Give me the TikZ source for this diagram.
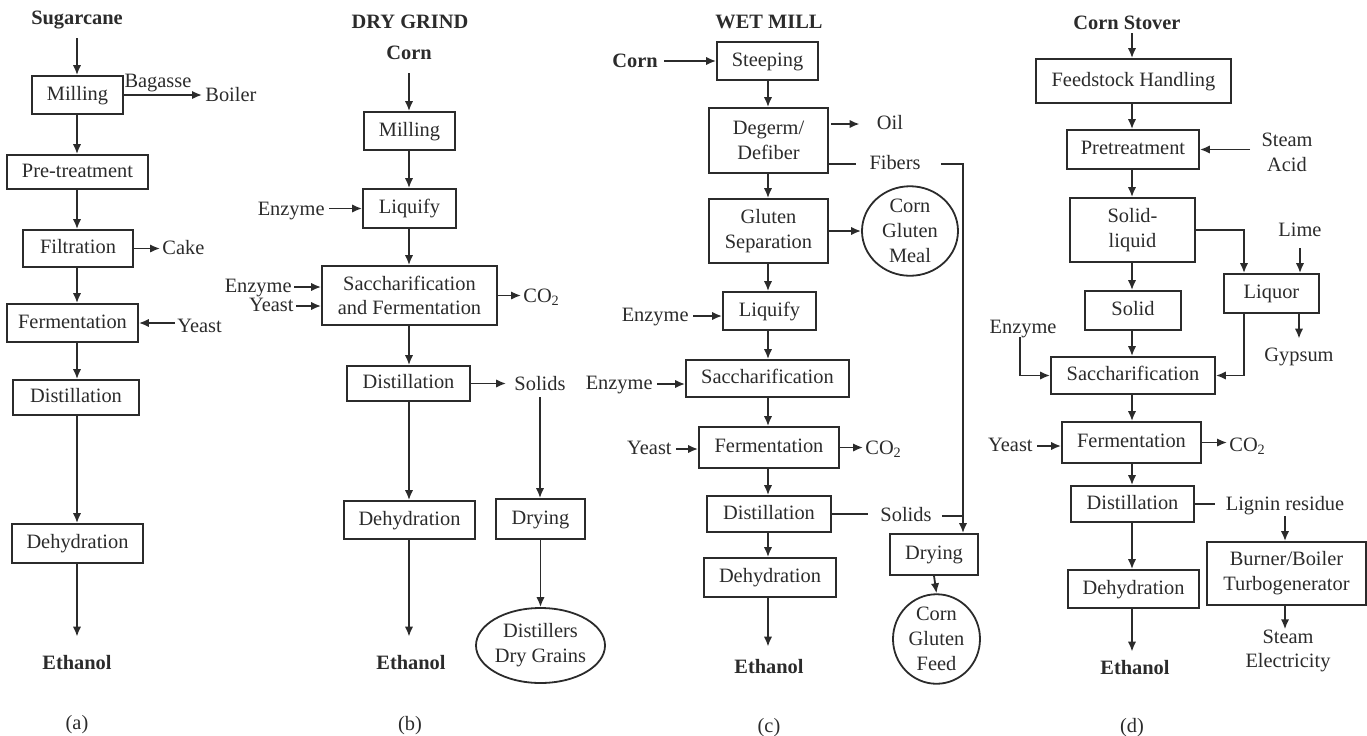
\documentclass[tikz,border=0pt]{standalone}
\usepackage{fontspec}
\setmainfont{Liberation Serif}
\usetikzlibrary{arrows.meta,shapes.geometric}
\definecolor{ink}{gray}{0.17}
\newcommand\fsz{\fontsize{10.2}{12.4}\selectfont}
\begin{document}
\begin{tikzpicture}[x=0.5pt,y=-0.5pt,
  every node/.style={font=\fsz, text=ink},
  lbl/.style={inner sep=0pt, text height=7pt, text depth=2pt},
  mlbl/.style={inner sep=0pt, align=center},
  hd/.style={lbl, font=\fsz\bfseries},
  box/.style={draw=ink, line width=0.9pt, inner sep=0pt, text height=7pt, text depth=2pt},
  mbox/.style={draw=ink, line width=0.9pt, inner sep=0pt, align=center},
  oval/.style={draw=ink, line width=0.9pt, inner sep=0pt, align=center, ellipse},
  arr/.style={draw=ink, line width=0.9pt, -{Latex[length=5pt,width=4.2pt]}},
  ln/.style={draw=ink, line width=0.9pt}]
\useasboundingbox (0,0) rectangle (1367,735);

% ---------------- (a) ----------------
\coordinate (aAx) at (77,0);
\node[hd] (aSrc) at (77,19) {Sugarcane};
\node[box,minimum width=45.5pt,minimum height=19pt] (aMill) at (77.5,95) {Milling};
\node[lbl] (aBag) at (158,82) {Bagasse};
\node[lbl,anchor=west] (aBoil) at (205,96) {Boiler};
\node[box,minimum width=70.5pt,minimum height=17pt] (aPre) at (77.5,172) {Pre-treatment};
\node[box,minimum width=55pt,minimum height=18.5pt] (aFil) at (78,248.5) {Filtration};
\node[lbl,anchor=west] (aCake) at (162,249) {Cake};
\node[box,minimum width=65.5pt,minimum height=19pt] (aFer) at (72.5,323) {Fermentation};
\node[lbl,anchor=west] (aYeast) at (177,327) {Yeast};
\node[box,minimum width=63pt,minimum height=17.5pt] (aDis) at (76,397.5) {Distillation};
\node[box,minimum width=65.5pt,minimum height=19.5pt] (aDeh) at (77.5,543.5) {Dehydration};
\node[hd] (aEth) at (77,664) {Ethanol};
\node[lbl] (aCap) at (77,724) {(a)};

\draw[arr,shorten <=5pt] (aSrc.south -| aAx) -- (aMill.north -| aAx);
\draw[arr,shorten >=1.5pt] (aMill.east) -- (aMill.east -| aBoil.west);
\draw[arr] (aMill.south -| aAx) -- (aPre.north -| aAx);
\draw[arr] (aPre.south -| aAx) -- (aFil.north -| aAx);
\draw[arr,shorten >=1pt] (aFil.east) -- (aFil.east -| aCake.west);
\draw[arr] (aFil.south -| aAx) -- (aFer.north -| aAx);
\draw[arr,shorten <=1pt] (aFer.east -| aYeast.west) -- (aFer.east);
\draw[arr] (aFer.south -| aAx) -- (aDis.north -| aAx);
\draw[arr] (aDis.south -| aAx) -- (aDeh.north -| aAx);
\draw[arr,shorten >=9pt] (aDeh.south -| aAx) -- (aEth.north -| aAx);

% ---------------- (b) ----------------
\coordinate (bAx) at (409,0);
\node[hd] (bTitle) at (410,23) {DRY GRIND};
\node[hd] (bCorn) at (409,54) {Corn};
\node[box,minimum width=45.5pt,minimum height=19pt] (bMill) at (409.5,131) {Milling};
\node[box,minimum width=46.5pt,minimum height=19.5pt] (bLiq) at (409.5,208.5) {Liquify};
\node[lbl,anchor=east] (bEnz1) at (325,210) {Enzyme};
\node[mbox,minimum width=87.5pt,minimum height=29.5pt] (bSF) at (409.5,295.5) {Saccharification\\and Fermentation};
\node[lbl,anchor=east] (bEnz2) at (292,287) {Enzyme};
\node[lbl,anchor=east] (bYeast) at (294,306) {Yeast};
\node[lbl,anchor=west] (bCO2) at (523,297) {CO\textsubscript{2}};
\node[box,minimum width=61.5pt,minimum height=17.5pt] (bDis) at (408.5,383.5) {Distillation};
\node[lbl] (bSol) at (540,385) {Solids};
\node[box,minimum width=65.5pt,minimum height=19pt] (bDeh) at (409.5,520) {Dehydration};
\node[box,minimum width=44.5pt,minimum height=20pt] (bDry) at (540.5,519) {Drying};
\node[oval,minimum width=63.5pt,minimum height=37.5pt] (bDDG) at (540.5,645.5) {Distillers\\Dry Grains};
\node[hd] (bEth) at (411,664) {Ethanol};
\node[lbl] (bCap) at (410,725) {(b)};

\draw[arr,shorten <=5pt] (bCorn.south -| bAx) -- (bMill.north -| bAx);
\draw[arr] (bMill.south -| bAx) -- (bLiq.north -| bAx);
\draw[arr,shorten <=2pt] (bLiq.west -| bEnz1.east) -- (bLiq.west);
\draw[arr] (bLiq.south -| bAx) -- (bSF.north -| bAx);
\draw[arr,shorten <=1pt] (bEnz2.east) -- (bEnz2.east -| bSF.west);
\draw[arr,shorten <=1pt] (bYeast.east) -- (bYeast.east -| bSF.west);
\draw[arr,shorten >=1pt] (bSF.east) -- (bSF.east -| bCO2.west);
\draw[arr] (bSF.south -| bAx) -- (bDis.north -| bAx);
\draw[arr,shorten >=4pt] (bDis.east) -- (bDis.east -| bSol.west);
\draw[arr,shorten <=1.5pt] (bSol.south) -- (bSol.south |- bDry.north);
\draw[arr] (bDis.south -| bAx) -- (bDeh.north -| bAx);
\draw[arr] (bDry.south) -- (bDDG.north);
\draw[arr,shorten >=9pt] (bDeh.south -| bAx) -- (bEth.north -| bAx);

% ---------------- (c) ----------------
\coordinate (cAx) at (768,0);
\coordinate (cTurn) at (963,164);
\node[hd] (cTitle) at (769,23) {WET MILL};
\node[hd] (cCorn) at (635,62) {Corn};
\node[box,minimum width=50.5pt,minimum height=19pt] (cSteep) at (767.5,61) {Steeping};
\node[mbox,minimum width=59.5pt,minimum height=32.5pt] (cDeg) at (768.5,140.5) {Degerm/\\Defiber};
\node[lbl] (cOil) at (890,124) {Oil};
\node[lbl] (cFib) at (895,164) {Fibers};
\node[mbox,minimum width=59.5pt,minimum height=32pt] (cGlu) at (768.5,231) {Gluten\\Separation};
\node[oval,minimum width=48pt,minimum height=44pt] (cCGM) at (910,231) {Corn\\Gluten\\Meal};
\node[box,minimum width=46.5pt,minimum height=19pt] (cLiq) at (769.5,311) {Liquify};
\node[lbl,anchor=east] (cEnz1) at (689,316) {Enzyme};
\node[box,minimum width=81.5pt,minimum height=18.5pt] (cSac) at (767.5,378.5) {Saccharification};
\node[lbl,anchor=east] (cEnz2) at (653,384) {Enzyme};
\node[box,minimum width=70pt,minimum height=20.5pt] (cFer) at (769,447.5) {Fermentation};
\node[lbl,anchor=east] (cYeast) at (672,449) {Yeast};
\node[lbl,anchor=west] (cCO2) at (865,449) {CO\textsubscript{2}};
\node[box,minimum width=62pt,minimum height=18pt] (cDis) at (769,514) {Distillation};
\node[lbl] (cSol) at (906,516) {Solids};
\node[box,minimum width=66pt,minimum height=19.5pt] (cDeh) at (770,577.5) {Dehydration};
\node[hd] (cEth) at (769,668) {Ethanol};
\node[box,minimum width=44pt,minimum height=20.5pt] (cDry) at (934,554.5) {Drying};
\node[oval,minimum width=43.5pt,minimum height=42pt] (cCGF) at (936.5,639) {Corn\\Gluten\\Feed};
\node[lbl] (cCap) at (769,727) {(c)};

\draw[arr,shorten <=3pt] (cSteep.west -| cCorn.east) -- (cSteep.west);
\draw[arr] (cSteep.south -| cAx) -- (cDeg.north -| cAx);
\draw[arr,shorten <=1pt,shorten >=8.5pt] (cDeg.east |- cOil) -- (cOil.west);
\draw[ln,shorten >=6.5pt] (cDeg.east |- cFib) -- (cFib.west);
\draw[arr,shorten <=10pt] (cFib.east) -- (cTurn) -- (cTurn |- cDry.north);
\draw[arr] (cDeg.south -| cAx) -- (cGlu.north -| cAx);
\draw[arr] (cGlu.east) -- (cCGM.west);
\draw[arr] (cGlu.south -| cAx) -- (cLiq.north -| cAx);
\draw[arr,shorten <=2pt] (cEnz1.east) -- (cEnz1.east -| cLiq.west);
\draw[arr] (cLiq.south -| cAx) -- (cSac.north -| cAx);
\draw[arr,shorten <=2pt] (cEnz2.east) -- (cEnz2.east -| cSac.west);
\draw[arr] (cSac.south -| cAx) -- (cFer.north -| cAx);
\draw[arr,shorten <=2pt] (cYeast.east) -- (cYeast.east -| cFer.west);
\draw[arr,shorten >=1pt] (cFer.east) -- (cFer.east -| cCO2.west);
\draw[arr] (cFer.south -| cAx) -- (cDis.north -| cAx);
\draw[ln,shorten >=6pt] (cDis.east) -- (cDis.east -| cSol.west);
\draw[ln,shorten <=5pt] (cSol.east) -- (cSol.east -| cTurn);
\draw[arr] (cDis.south -| cAx) -- (cDeh.north -| cAx);
\draw[arr,shorten >=6pt] (cDeh.south -| cAx) -- (cEth.north -| cAx);
\draw[arr] (cDry.south) -- (cCGF.north);

% ---------------- (d) ----------------
\coordinate (dAx) at (1132,0);
\coordinate (dJ1) at (1244,0);
\coordinate (dJ2) at (1020,0);
\node[hd] (dSrc) at (1127,24) {Corn Stover};
\node[box,minimum width=97.5pt,minimum height=22pt] (dFeed) at (1133.5,81) {Feedstock Handling};
\node[box,minimum width=66pt,minimum height=19.5pt] (dPre) at (1133,149.5) {Pretreatment};
\node[mlbl] (dSA) at (1287,152) {Steam\\Acid};
\node[mbox,minimum width=62.5pt,minimum height=32pt] (dSL) at (1132.5,230) {Solid-\\liquid};
\node[lbl] (dLime) at (1300,231) {Lime};
\node[box,minimum width=47.5pt,minimum height=19.5pt] (dLiq) at (1271.5,293.5) {Liquor};
\node[lbl] (dGyp) at (1299,356) {Gypsum};
\node[box,minimum width=48pt,minimum height=19.5pt] (dSol) at (1133,310.5) {Solid};
\node[lbl] (dEnz) at (1023,328) {Enzyme};
\node[box,minimum width=82pt,minimum height=18.5pt] (dSac) at (1133,375.5) {Saccharification};
\node[box,minimum width=69.5pt,minimum height=20.5pt] (dFer) at (1131.5,442.5) {Fermentation};
\node[lbl,anchor=east] (dYeast) at (1033,446) {Yeast};
\node[lbl,anchor=west] (dCO2) at (1229,446) {CO\textsubscript{2}};
\node[box,minimum width=61.5pt,minimum height=18pt] (dDis) at (1132.5,504) {Distillation};
\node[lbl] (dLig) at (1285,505) {Lignin residue};
\node[mbox,minimum width=79.5pt,minimum height=31.5pt] (dBur) at (1286.5,573.5) {Burner/Boiler\\Turbogenerator};
\node[mlbl] (dSE) at (1288,651) {Steam\\Electricity};
\node[box,minimum width=65.5pt,minimum height=19pt] (dDeh) at (1133.5,589) {Dehydration};
\node[hd] (dEth) at (1135,669) {Ethanol};
\node[lbl] (dCap) at (1132,727) {(d)};

\draw[arr] (dSrc.south -| dAx) -- (dFeed.north -| dAx);
\draw[arr] (dFeed.south -| dAx) -- (dPre.north -| dAx);
\draw[arr,shorten <=5.5pt] (dPre.east -| dSA.west) -- (dPre.east);
\draw[arr] (dPre.south -| dAx) -- (dSL.north -| dAx);
\draw[arr] (dSL.east) -| (dJ1 |- dLiq.north);
\draw[arr,shorten <=4pt] (dLime.south) -- (dLime.south |- dLiq.north);
\draw[arr,shorten >=4pt] (dLiq.south -| dGyp) -- (dGyp.north);
\draw[arr] (dLiq.south -| dJ1) |- (dSac.east);
\draw[arr] (dSL.south -| dAx) -- (dSol.north -| dAx);
\draw[arr] (dSol.south -| dAx) -- (dSac.north -| dAx);
\draw[arr] (dJ2 |- dEnz.south) |- (dSac.west);
\draw[arr] (dSac.south -| dAx) -- (dFer.north -| dAx);
\draw[arr,shorten <=2pt] (dYeast.east) -- (dYeast.east -| dFer.west);
\draw[arr,shorten >=1pt] (dFer.east) -- (dFer.east -| dCO2.west);
\draw[arr] (dFer.south -| dAx) -- (dDis.north -| dAx);
\draw[ln,shorten >=5pt] (dDis.east) -- (dDis.east -| dLig.west);
\draw[arr,shorten <=1pt] (dLig.south) -- (dLig.south |- dBur.north);
\draw[arr] (dBur.south -| dLig) -- (dSE.north -| dLig);
\draw[arr] (dDis.south -| dAx) -- (dDeh.north -| dAx);
\draw[arr,shorten >=4pt] (dDeh.south -| dAx) -- (dEth.north -| dAx);
\end{tikzpicture}
\end{document}
